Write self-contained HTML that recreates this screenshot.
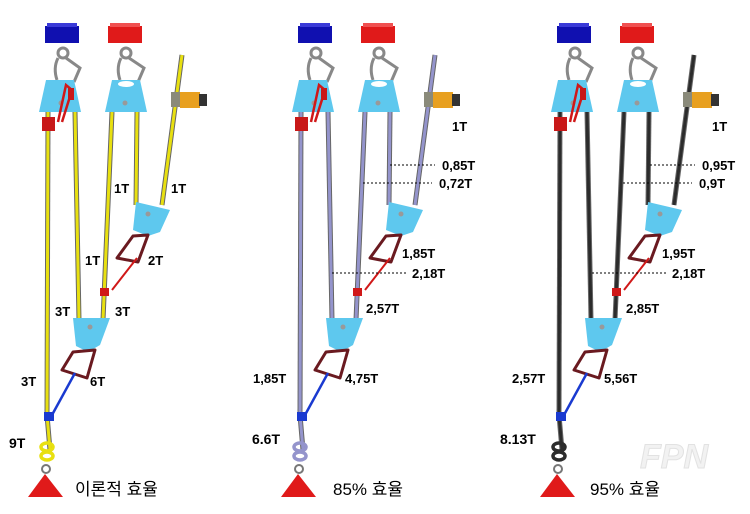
<!DOCTYPE html>
<html><head><meta charset="utf-8"><style>
html,body{margin:0;padding:0;background:#fff;}
svg{display:block;}
text{font-family:"Liberation Sans","Noto Sans CJK KR",sans-serif;fill:#000;}
.l{font-size:13px;font-weight:bold;}
.k{font-size:17px;}
.d{stroke:#000;stroke-width:1;stroke-dasharray:2,2;}
</style></head><body>
<svg width="750" height="514" viewBox="0 0 750 514" xmlns="http://www.w3.org/2000/svg">
<defs>
<g id="ropes">
    <path d="M48 112 L47 415"/>
    <path d="M75 112 L79 320"/>
    <path d="M112 112 L103 320"/>
    <path d="M137 112 L136 205"/>
    <path d="M182 55 L162 205"/>
    <path d="M47 415 L50 450"/>
</g>
<g id="p">
  <rect x="45" y="26" width="34" height="17" fill="#1010b0"/>
  <rect x="47" y="23" width="30" height="4" fill="#3a3ad8"/>
  <rect x="108" y="26" width="34" height="17" fill="#e01a1a"/>
  <rect x="110" y="23" width="30" height="4" fill="#f05050"/>
  <g fill="none" stroke="#888" stroke-width="3">
    <circle cx="63" cy="53" r="5"/>
    <path d="M58 58 C54 66 55 74 57 80 M66 58 L80 68 L74 82"/>
    <circle cx="126" cy="53" r="5"/>
    <path d="M121 58 C117 66 118 74 120 80 M129 58 L144 68 L138 82"/>
  </g>
  <use href="#ropes" stroke="#666" stroke-width="5" fill="none"/>
  <use href="#ropes" stroke="currentColor" stroke-width="3" fill="none"/>
  <path d="M46 80 L74 80 L81 112 L39 112 Z" fill="#5ec8ee"/>
  <path d="M112 80 L140 80 L147 112 L105 112 Z" fill="#5ec8ee"/>
  <ellipse cx="126" cy="84" rx="8" ry="3" fill="#fff"/>
  <circle cx="125" cy="103" r="2.5" fill="#999"/>
  <circle cx="61" cy="103" r="2.5" fill="#999"/>
  <path d="M58 122 L66 85 L72 90 L62 122" fill="none" stroke="#d01818" stroke-width="2.5"/>
  <rect x="42" y="117" width="13" height="14" fill="#c81818"/>
  <rect x="68" y="88" width="6" height="12" fill="#c81818"/>
  <rect x="171" y="92" width="10" height="15" fill="#8a8a7a"/>
  <rect x="180" y="92" width="20" height="16" fill="#e8a020"/>
  <rect x="199" y="94" width="8" height="12" fill="#333"/>
  <path d="M136 202 L170 210 L160 232 L148 236 L133 230 Z" fill="#5ec8ee"/>
  <circle cx="148" cy="214" r="2.5" fill="#999"/>
  <path d="M133 236 L148 235 L138 262 L117 258 Z" fill="none" stroke="#6a1a20" stroke-width="3" stroke-linejoin="round"/>
  <path d="M137 258 L112 290" stroke="#d01818" stroke-width="2"/>
  <rect x="100" y="288" width="9" height="8" fill="#d01818"/>
  <path d="M73 318 L110 318 L100 345 L88 352 L76 346 Z" fill="#5ec8ee"/>
  <circle cx="90" cy="327" r="2.5" fill="#999"/>
  <path d="M73 352 L95 350 L87 378 L62 370 Z" fill="none" stroke="#6a1a20" stroke-width="3" stroke-linejoin="round"/>
  <path d="M75 373 L52 415" stroke="#1a3ad0" stroke-width="2.5"/>
  <rect x="44" y="412" width="10" height="9" fill="#1a3ad0"/>
  <g fill="none" stroke="currentColor" stroke-width="3.5">
    <ellipse cx="47" cy="447" rx="6" ry="4"/>
    <ellipse cx="47" cy="456" rx="6" ry="4"/>
  </g>
  <circle cx="46" cy="469" r="4" fill="none" stroke="#777" stroke-width="2"/>
  <path d="M45 474 L63 497 L28 497 Z" fill="#e01a1a"/>
</g>
</defs>

<use href="#p" x="0" y="0" style="color:#e8e010"/>
<use href="#p" x="253" y="0" style="color:#9494cc"/>
<use href="#p" x="512" y="0" style="color:#2c2c2c"/>

<text class="l" x="114" y="193">1T</text>
<text class="l" x="171" y="193">1T</text>
<text class="l" x="85" y="265">1T</text>
<text class="l" x="148" y="265">2T</text>
<text class="l" x="55" y="316">3T</text>
<text class="l" x="115" y="316">3T</text>
<text class="l" x="21" y="386">3T</text>
<text class="l" x="90" y="386">6T</text>
<text class="l" x="9" y="448" style="font-size:14px">9T</text>
<text class="k" x="75" y="495">이론적 효율</text>

<line class="d" x1="390" y1="165" x2="435" y2="165"/>
<line class="d" x1="363" y1="183" x2="432" y2="183"/>
<line class="d" x1="332" y1="273" x2="407" y2="273"/>
<text class="l" x="452" y="131">1T</text>
<text class="l" x="442" y="170">0,85T</text>
<text class="l" x="439" y="188">0,72T</text>
<text class="l" x="402" y="258">1,85T</text>
<text class="l" x="412" y="278">2,18T</text>
<text class="l" x="366" y="313">2,57T</text>
<text class="l" x="253" y="383">1,85T</text>
<text class="l" x="345" y="383">4,75T</text>
<text class="l" x="252" y="444" style="font-size:14px">6.6T</text>
<text class="k" x="333" y="495">85% 효율</text>

<line class="d" x1="650" y1="165" x2="695" y2="165"/>
<line class="d" x1="623" y1="183" x2="692" y2="183"/>
<line class="d" x1="592" y1="273" x2="667" y2="273"/>
<text class="l" x="712" y="131">1T</text>
<text class="l" x="702" y="170">0,95T</text>
<text class="l" x="699" y="188">0,9T</text>
<text class="l" x="662" y="258">1,95T</text>
<text class="l" x="672" y="278">2,18T</text>
<text class="l" x="626" y="313">2,85T</text>
<text class="l" x="512" y="383">2,57T</text>
<text class="l" x="604" y="383">5,56T</text>
<text class="l" x="500" y="444" style="font-size:14px">8.13T</text>
<text class="k" x="590" y="495">95% 효율</text>

<text x="640" y="468" style="font-size:34px;font-style:italic;font-weight:bold;fill:#f2f2f2;stroke:#e2e2e2;stroke-width:1">FPN</text>
</svg>
</body></html>
